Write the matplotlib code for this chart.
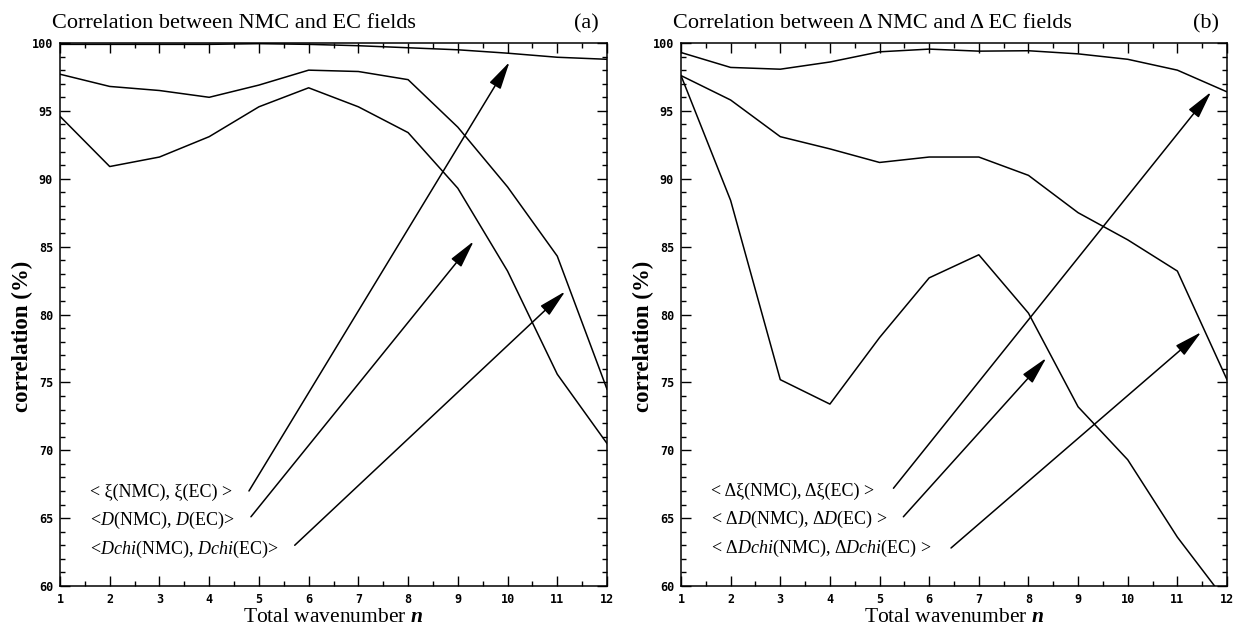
import numpy as np
import matplotlib
matplotlib.use("Agg")
import matplotlib.pyplot as plt
from matplotlib.ticker import MultipleLocator

plt.rcParams['font.family'] = ['Liberation Serif', 'DejaVu Serif']
plt.rcParams['mathtext.fontset'] = 'custom'
plt.rcParams['mathtext.rm'] = 'Liberation Serif'
plt.rcParams['mathtext.it'] = 'Liberation Serif:italic'
plt.rcParams['mathtext.bf'] = 'Liberation Serif:bold'
plt.rcParams['mathtext.bfit'] = 'Liberation Serif:bold:italic'

# total wavenumber
n = np.arange(1, 13)

# (a) correlation between NMC and EC fields
xi_a = [99.9, 99.9, 99.9, 99.9, 99.95, 99.9, 99.8, 99.65, 99.5, 99.25, 98.95, 98.8]
d_a = [97.7, 96.8, 96.5, 96.0, 96.9, 98.0, 97.9, 97.3, 93.8, 89.4, 84.3, 74.5]
dchi_a = [94.6, 90.9, 91.6, 93.1, 95.3, 96.7, 95.3, 93.4, 89.3, 83.2, 75.6, 70.5]

# (b) correlation between delta NMC and delta EC fields
xi_b = [99.3, 98.2, 98.07, 98.6, 99.35, 99.55, 99.4, 99.43, 99.2, 98.8, 98.0, 96.4]
d_b = [97.6, 95.8, 93.1, 92.2, 91.2, 91.6, 91.6, 90.25, 87.5, 85.5, 83.2, 75.2]
dchi_b = [97.6, 88.4, 75.2, 73.4, 78.3, 82.7, 84.4, 80.1, 73.2, 69.3, 63.6, 58.8]

titles = ["Correlation between NMC and EC fields",
          "Correlation between \u0394 NMC and \u0394 EC fields"]
tags = ["(a)", "(b)"]

labels_a = ["< \u03be(NMC), \u03be(EC) >",
            "<$D$(NMC), $D$(EC)>",
            "<$Dchi$(NMC), $Dchi$(EC)>"]
labels_b = ["< \u0394\u03be(NMC), \u0394\u03be(EC) >",
            "< \u0394$D$(NMC), \u0394$D$(EC) >",
            "< \u0394$Dchi$(NMC), \u0394$Dchi$(EC) >"]
label_x = 1.6
label_y_a = [66.9, 64.8, 62.7]
label_y_b = [67.0, 64.9, 62.8]

# arrow tails (next to the labels) and heads (on the curves)
tails_a = [(4.8, 67.0), (4.84, 65.1), (5.72, 63.0)]
tips_a = [(10.04, 98.6), (9.32, 85.4), (11.16, 81.7)]
tails_b = [(5.28, 67.2), (5.48, 65.1), (6.44, 62.8)]
tips_b = [(11.68, 96.4), (8.36, 76.8), (11.48, 78.7)]

fig = plt.figure(figsize=(12.4, 6.32), dpi=100)
ax1 = fig.add_axes([60 / 1240, 46 / 632, 547 / 1240, 543 / 632])
ax2 = fig.add_axes([681 / 1240, 46 / 632, 546 / 1240, 543 / 632])

panels = [
    (ax1, [xi_a, d_a, dchi_a], labels_a, label_y_a, tails_a, tips_a),
    (ax2, [xi_b, d_b, dchi_b], labels_b, label_y_b, tails_b, tips_b),
]

for i, (ax, series, labels, ly, tails, tips) in enumerate(panels):
    for s in series:
        ax.plot(n, s, color='black', lw=1.1)

    ax.set_xlim(1, 12)
    ax.set_ylim(60, 100)
    ax.xaxis.set_major_locator(MultipleLocator(1))
    ax.xaxis.set_minor_locator(MultipleLocator(0.5))
    ax.yaxis.set_major_locator(MultipleLocator(5))
    ax.yaxis.set_minor_locator(MultipleLocator(1))
    ax.tick_params(which='both', direction='in', top=True, right=True, width=1)
    ax.tick_params(which='major', length=7, pad=5)
    ax.tick_params(which='minor', length=3.5)
    for lab in ax.get_xticklabels() + ax.get_yticklabels():
        lab.set_fontfamily('DejaVu Sans Mono')
        lab.set_fontweight('bold')
        lab.set_fontsize(8.5)
    for sp in ax.spines.values():
        sp.set_linewidth(1.1)

    ax.text(-0.015, 1.0 + 10 / 543, titles[i], transform=ax.transAxes,
            ha='left', va='bottom', fontsize=16)
    ax.text(0.985, 1.0 + 10 / 543, tags[i], transform=ax.transAxes,
            ha='right', va='bottom', fontsize=16)

    ax.set_ylabel('correlation (%)', fontsize=16.5, fontweight='bold', va='center')
    ax.yaxis.set_label_coords(-38 / 547, 0.46)
    ax.set_xlabel('Total wavenumber $\\mathbfit{n}$', fontsize=15.5, va='center')
    ax.xaxis.set_label_coords(0.5, -31 / 543)

    for lab, y in zip(labels, ly):
        ax.text(label_x, y, lab, fontsize=13, ha='left', va='center')
    for t, h in zip(tails, tips):
        ax.annotate('', xy=h, xytext=t,
                    arrowprops=dict(arrowstyle='-|>,head_length=0.95,head_width=0.22',
                                    color='black', lw=1.1, mutation_scale=18,
                                    shrinkA=0, shrinkB=0))

fig.savefig('out.png', dpi=100)
